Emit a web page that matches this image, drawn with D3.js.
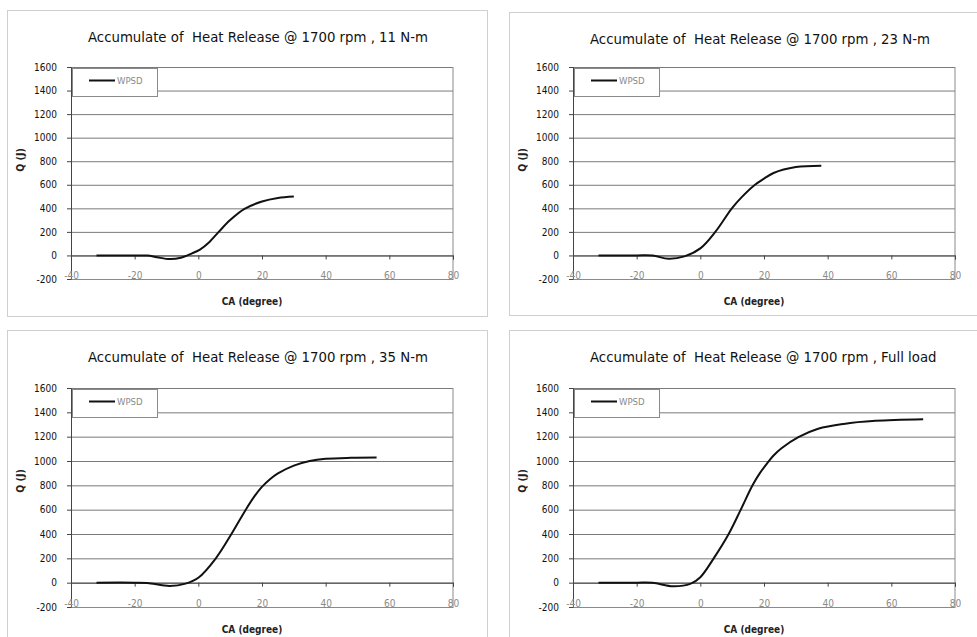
<!DOCTYPE html>
<html>
<head>
<meta charset="utf-8">
<script src="https://cdn.jsdelivr.net/npm/d3@7/dist/d3.min.js"></script>
<style>
  html, body { margin: 0; padding: 0; background: #fff; }
  svg { display: block; }
  text { font-family: "DejaVu Sans Condensed", "DejaVu Sans", sans-serif; white-space: pre; }
</style>
</head>
<body>
<svg id="chart" width="977" height="637"></svg>
<script>
// Cumulative heat release (J) vs crank angle (degree) at 1700 rpm for four loads
const ca11 = [-32, -20, -16, -13, -9, -5.5, -2, 0.5, 3.5, 6.4, 10, 14.5, 20, 25, 30];
const q11  = [0, 0, -1, -15, -31, -20, 18, 50, 115, 200, 300, 395, 458, 488, 500];

const ca23 = [-32, -20, -15, -10, -5, 0, 4.7, 9.9, 13, 16.7, 20, 23, 30, 38];
const q23  = [0, 0, -1, -28, -8, 60, 200, 400, 495, 590, 652, 700, 750, 762];

const ca35 = [-32, -20, -16, -9, -4, 0, 5.5, 10.4, 14.9, 17.5, 19.9, 22.5, 25, 30, 35, 40, 48, 56];
const q35  = [0, 0, -3, -27, -8, 40, 200, 400, 600, 705, 785, 850, 898, 962, 1000, 1018, 1026, 1028];

const caFull = [-32, -20, -15, -8.5, -3, 0, 4.2, 8.9, 12.7, 16.4, 18.7, 21.1, 23, 25.5, 30.8, 37, 45, 55, 70];
const qFull  = [0, 0, -1, -30, -8, 45, 200, 400, 600, 800, 900, 985, 1045, 1105, 1196, 1265, 1305, 1330, 1343];

const titles = [
  "Accumulate of  Heat Release @ 1700 rpm , 11 N-m",
  "Accumulate of  Heat Release @ 1700 rpm , 23 N-m",
  "Accumulate of  Heat Release @ 1700 rpm , 35 N-m",
  "Accumulate of  Heat Release @ 1700 rpm , Full load"
];
const seriesName = "WPSD";
const xTicks = [-40, -20, 0, 20, 40, 60, 80];
const yTicks = [-200, 0, 200, 400, 600, 800, 1000, 1200, 1400, 1600];
const xLabel = "CA (degree)";
const yLabel = "Q (J)";

const svg = d3.select("#chart");
const plain = d => String(d);   // hyphen-minus for negatives

// panel frames and plot rectangles
const panels = [
  { box: [7, 10, 480, 306], plot: [71, 67, 382, 212], ca: ca11, q: q11, title: titles[0] },
  { box: [509, 12, 480, 303], plot: [573, 67, 382, 212], ca: ca23, q: q23, title: titles[1] },
  { box: [7, 330, 480, 320], plot: [71, 388, 382, 219], ca: ca35, q: q35, title: titles[2] },
  { box: [509, 330, 480, 320], plot: [573, 388, 382, 219], ca: caFull, q: qFull, title: titles[3] }
];

panels.forEach(p => {
  const [bx, by, bw, bh] = p.box;
  const [px, py, pw, ph] = p.plot;

  svg.append("rect")
    .attr("x", bx + 0.5).attr("y", by + 0.5)
    .attr("width", bw).attr("height", bh)
    .attr("fill", "#fff").attr("stroke", "#cfcfcf");

  const x = d3.scaleLinear().domain([-40, 80]).range([px, px + pw]);
  const y = d3.scaleLinear().domain([-200, 1600]).range([py + ph, py]);

  const g = svg.append("g");

  // horizontal gridlines
  g.append("g")
    .attr("transform", `translate(${px},0)`)
    .call(d3.axisLeft(y).tickValues(yTicks).tickSize(-pw).tickFormat(""))
    .call(s => s.select(".domain").remove())
    .call(s => s.selectAll("line").attr("stroke", "#7a7a7a").attr("stroke-width", 1));

  // right frame line
  g.append("line").attr("x1", px + pw).attr("x2", px + pw).attr("y1", py).attr("y2", py + ph)
    .attr("stroke", "#8a8a8a");

  // y axis with labels
  g.append("g")
    .attr("transform", `translate(${px},0)`)
    .call(d3.axisLeft(y).tickValues(yTicks).tickSize(4).tickPadding(10).tickFormat(plain))
    .call(s => s.select(".domain").attr("stroke", "#444"))
    .call(s => s.selectAll("line").attr("stroke", "#444"))
    .call(s => s.selectAll("text").attr("fill", "#111").style("font-size", "10px")
      .style("font-family", "'DejaVu Sans Condensed', sans-serif"));

  // x axis line at Q = 0 with downward ticks
  g.append("g")
    .attr("transform", `translate(0,${y(0)})`)
    .call(d3.axisBottom(x).tickValues(xTicks).tickSize(4).tickFormat(""))
    .call(s => s.select(".domain").attr("stroke", "#444"))
    .call(s => s.selectAll("line").attr("stroke", "#444"));

  // x tick labels sitting on the bottom edge
  g.append("g")
    .attr("transform", `translate(0,${y(-200)})`)
    .call(d3.axisBottom(x).tickValues(xTicks).tickSize(0).tickFormat(plain))
    .call(s => s.select(".domain").attr("stroke", "#8a8a8a"))
    .call(s => s.selectAll("text").attr("y", 0).attr("dy", "-0.5px").attr("fill", "#8a8a8a")
      .style("font-size", "10px").style("font-family", "'DejaVu Sans Condensed', sans-serif"));

  // curve
  const line = d3.line()
    .x((d, i) => x(p.ca[i]))
    .y(d => y(d))
    .curve(d3.curveCatmullRom.alpha(0.5));
  g.append("path")
    .datum(p.q)
    .attr("d", line)
    .attr("fill", "none")
    .attr("stroke", "#111")
    .attr("stroke-width", 2);

  // legend
  const lg = g.append("g").attr("transform", `translate(${px + 1},${py + 1})`);
  lg.append("rect").attr("x", 0.5).attr("y", 0.5).attr("width", 85).attr("height", 28)
    .attr("fill", "#fff").attr("stroke", "#8a8a8a");
  lg.append("line").attr("x1", 17).attr("x2", 43).attr("y1", 12.5).attr("y2", 12.5)
    .attr("stroke", "#111").attr("stroke-width", 2);
  lg.append("text").attr("x", 45).attr("y", 16).text(seriesName)
    .attr("fill", "#8a8a8a").style("font-size", "9.5px");

  // titles
  svg.append("text")
    .attr("x", bx + 81).attr("y", by + 32)
    .text(p.title)
    .attr("fill", "#111")
    .style("font-family", "'DejaVu Sans', sans-serif")
    .style("font-size", "13.3px");

  svg.append("text")
    .attr("x", px + pw / 2 - 10).attr("y", py + ph + 26)
    .attr("text-anchor", "middle")
    .text(xLabel)
    .attr("fill", "#222")
    .style("font-weight", "bold")
    .style("font-size", "10px");

  svg.append("text")
    .attr("transform", `translate(${bx + 17},${py + 93}) rotate(-90)`)
    .attr("text-anchor", "middle")
    .text(yLabel)
    .attr("fill", "#222")
    .style("font-weight", "bold")
    .style("font-size", "10.5px");
});
</script>
</body>
</html>
